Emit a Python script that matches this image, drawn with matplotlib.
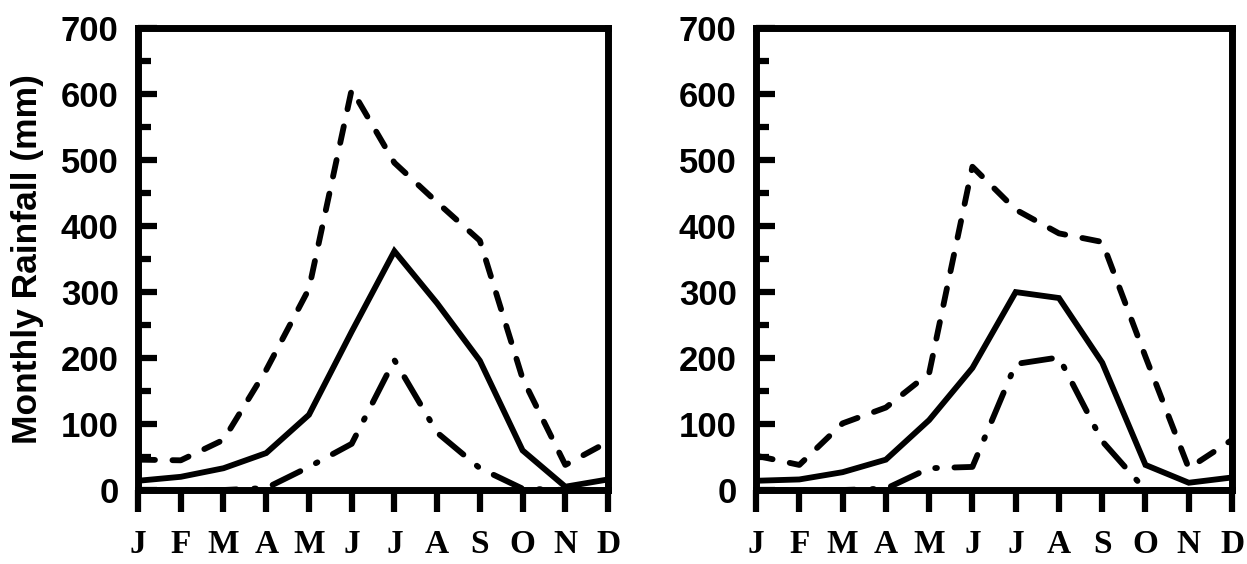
import numpy as np
import matplotlib.pyplot as plt
from matplotlib.ticker import MultipleLocator

months = ["J", "F", "M", "A", "M", "J", "J", "A", "S", "O", "N", "D"]

# left panel
left_mean = [14, 20, 33, 56, 114, 240, 362, 283, 196, 60, 5, 16]
left_wet = [46, 45, 76, 182, 305, 607, 496, 436, 378, 169, 38, 73]
left_dry = [0, 0, 0, 3, 35, 70, 197, 87, 33, 2, 0, 0]

# right panel
right_mean = [14, 16, 27, 46, 106, 185, 300, 291, 193, 38, 11, 19]
right_wet = [52, 38, 101, 125, 177, 490, 425, 389, 376, 202, 33, 76]
right_dry = [0, 0, 0, 2, 33, 35, 191, 201, 74, 0, 0, 0]

fig = plt.figure(figsize=(12.47, 5.64), dpi=100)
ax1 = fig.add_axes([0.1107, 0.1312, 0.3769, 0.8188])
ax2 = fig.add_axes([0.6063, 0.1312, 0.3817, 0.8188])

x = np.arange(12)
lw = 4.2
for ax, mean, wet, dry in [(ax1, left_mean, left_wet, left_dry),
                           (ax2, right_mean, right_wet, right_dry)]:
    ax.plot(x, wet, color="black", lw=lw, linestyle=(0, (2.9, 3.0)),
            dash_capstyle="round")
    ax.plot(x, mean, color="black", lw=lw, solid_joinstyle="miter")
    ax.plot(x, dry, color="black", lw=lw, linestyle=(0, (5.3, 3.0, 0.3, 3.0)),
            dash_capstyle="round")
    ax.set_xlim(0, 11)
    ax.set_ylim(0, 700)
    ax.set_xticks(x)
    ax.set_xticklabels(months, family="Liberation Serif", fontweight="bold",
                       fontsize=24)
    ax.yaxis.set_major_locator(MultipleLocator(100))
    ax.yaxis.set_minor_locator(MultipleLocator(50))
    for lbl in ax.get_yticklabels():
        lbl.set_family("Liberation Sans")
        lbl.set_fontweight("bold")
        lbl.set_fontsize(25)
    ax.tick_params(axis="x", direction="out", length=16, width=4.5, pad=12)
    ax.tick_params(axis="y", which="major", direction="in", length=14,
                   width=4.5, pad=14)
    ax.tick_params(axis="y", which="minor", direction="in", length=9,
                   width=4.5)
    for sp in ax.spines.values():
        sp.set_linewidth(5)

ax1.set_ylabel("Monthly Rainfall (mm)", family="Liberation Sans",
               fontweight="bold", fontsize=25.5)
ax1.yaxis.set_label_coords(-0.2, 0.5)

plt.savefig("out.png", dpi=100)
